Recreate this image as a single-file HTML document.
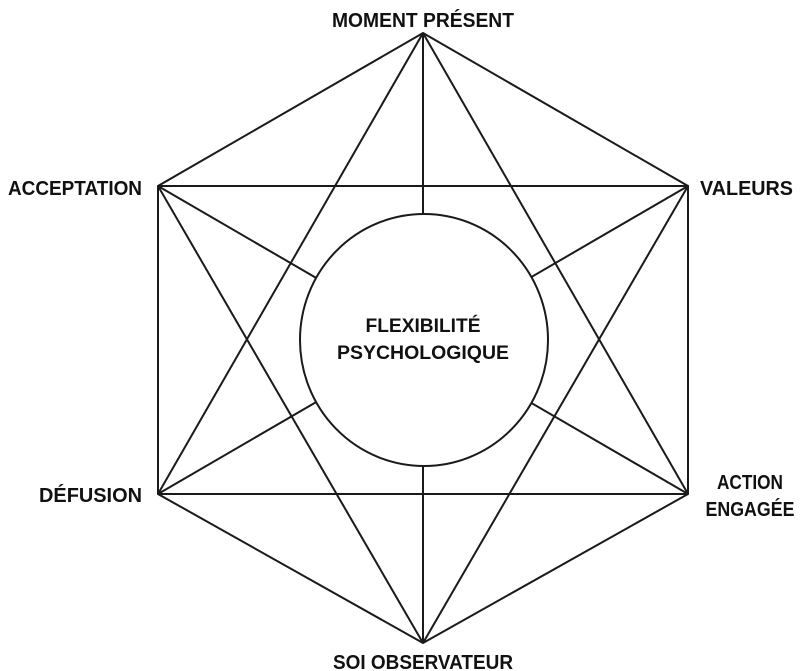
<!DOCTYPE html>
<html><head><meta charset="utf-8"><style>
html,body{margin:0;padding:0;background:#fff;}
svg{display:block}
text{font-family:"Liberation Sans Narrow","Liberation Sans",sans-serif;font-weight:bold;fill:#111;font-size:20px}
</style></head><body>
<svg width="800" height="671" viewBox="0 0 800 671" xmlns="http://www.w3.org/2000/svg">
<g stroke="#1a1a1a" stroke-width="2" fill="none">
<polygon points="423,33 688,186 688,494 423,643 158,494 158,186"/>
<line x1="158" y1="186" x2="688" y2="186"/>
<line x1="158" y1="494" x2="688" y2="494"/>
<line x1="423" y1="33" x2="158" y2="494"/>
<line x1="423" y1="33" x2="688" y2="494"/>
<line x1="423" y1="643" x2="158" y2="186"/>
<line x1="423" y1="643" x2="688" y2="186"/>
<line x1="423" y1="33" x2="423" y2="643"/>
<line x1="158" y1="186" x2="688" y2="494"/>
<line x1="688" y1="186" x2="158" y2="494"/>
</g>
<ellipse cx="424" cy="340" rx="124" ry="126" fill="#fff" stroke="#1a1a1a" stroke-width="2"/>
<text x="423" y="27" text-anchor="middle" textLength="182" lengthAdjust="spacingAndGlyphs">MOMENT PRÉSENT</text>
<text x="8" y="195" textLength="134" lengthAdjust="spacingAndGlyphs">ACCEPTATION</text>
<text x="700" y="195" textLength="93" lengthAdjust="spacingAndGlyphs">VALEURS</text>
<text x="39" y="502" textLength="103" lengthAdjust="spacingAndGlyphs">DÉFUSION</text>
<text x="750" y="489" text-anchor="middle" textLength="66" lengthAdjust="spacingAndGlyphs">ACTION</text>
<text x="750" y="516" text-anchor="middle" textLength="89" lengthAdjust="spacingAndGlyphs">ENGAGÉE</text>
<text x="423" y="669" text-anchor="middle" textLength="180" lengthAdjust="spacingAndGlyphs">SOI OBSERVATEUR</text>
<text x="423" y="332" text-anchor="middle" textLength="115" lengthAdjust="spacingAndGlyphs" style="font-size:19px">FLEXIBILITÉ</text>
<text x="423" y="359" text-anchor="middle" textLength="172" lengthAdjust="spacingAndGlyphs" style="font-size:19px">PSYCHOLOGIQUE</text>
</svg>
</body></html>
